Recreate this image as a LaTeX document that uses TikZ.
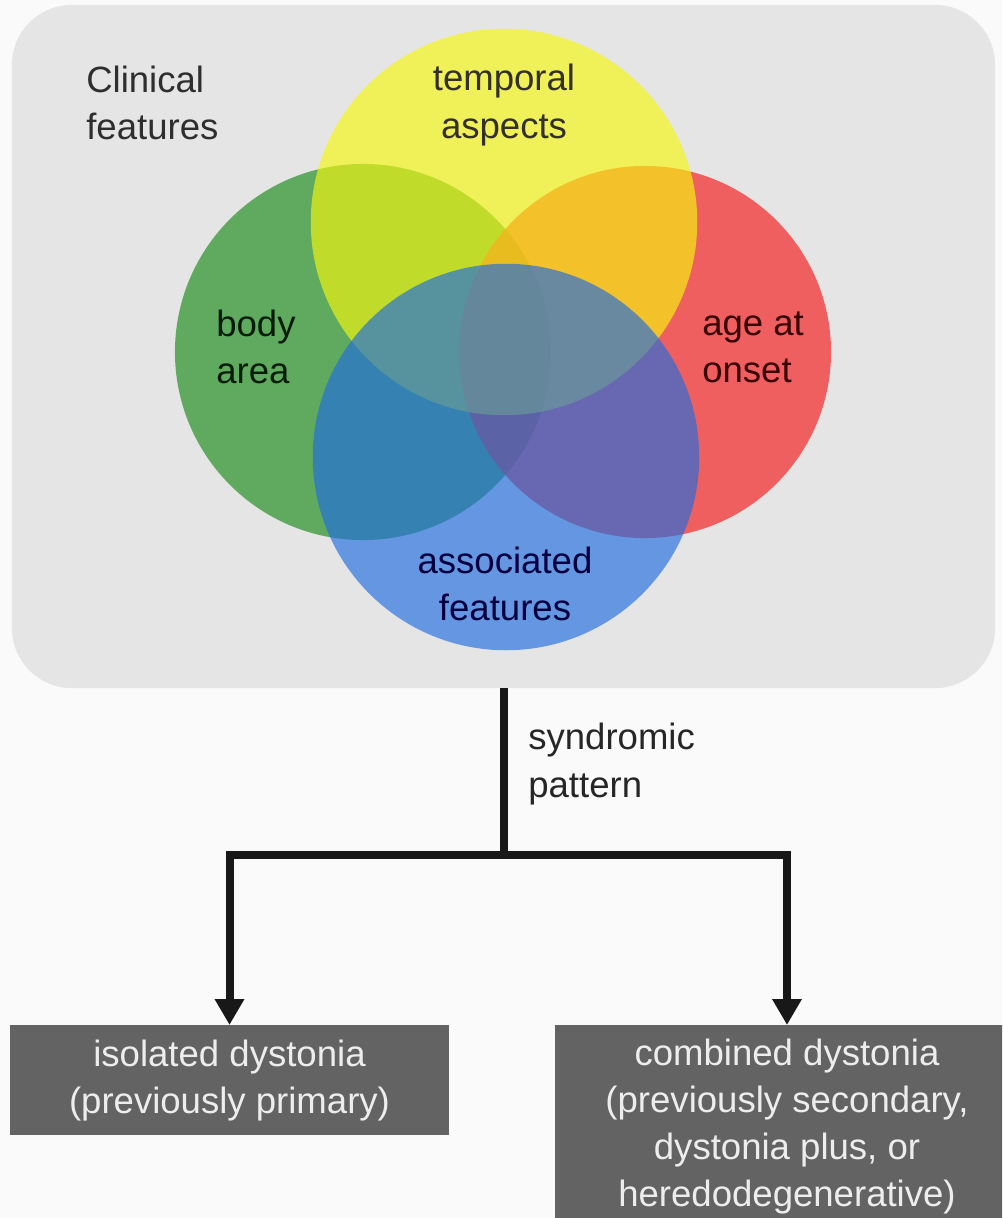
\documentclass[tikz,border=0pt]{standalone}
\usepackage{fontspec}
\setmainfont{Liberation Sans}
\usetikzlibrary{arrows.meta,positioning}
\definecolor{pagebg}{RGB}{250,250,250}
\definecolor{panelgray}{RGB}{229,229,229}
\definecolor{boxgray}{RGB}{99,99,99}
\definecolor{flowcol}{RGB}{24,24,24}
\definecolor{vgreen}{RGB}{51,151,51}
\definecolor{vred}{RGB}{244,51,51}
\definecolor{vyellow}{RGB}{246,246,15}
\definecolor{vblue}{RGB}{31,108,223}
\tikzset{
  panel/.style={fill=panelgray, rounded corners=1.5cm, inner sep=0pt,
    minimum width=24.575cm, minimum height=17.075cm},
  venn/.style={fill opacity=#1},
  venn/.default=0.75,
  lbl/.style={font=\fontsize{26}{33.5}\selectfont, inner sep=0pt},
  outbox/.style={lbl, fill=boxgray, text=white!93!black, align=center},
  flowln/.style={line width=0.2cm, draw=flowcol},
  arrowln/.style={flowln, -{Triangle[width=0.7cm,length=0.65cm]}},
}

\begin{document}
\begin{tikzpicture}[x=0.025cm, y=-0.025cm]
  \useasboundingbox (0,0) rectangle (1002,1218);
  \clip (0,0) rectangle (1002,1218);
  \fill[pagebg] (0,0) rectangle (1002,1218);
  % grey panel behind the circles
  \node[panel] (clinical) at (503.5,346.5) {};
  % four overlapping circles
  \fill[vgreen, venn] (363,352) circle (4.7cm);
  \fill[vred, venn] (645,352) circle (4.65cm);
  \fill[vyellow, venn=0.65] (504,222) circle (4.83cm);
  \fill[vblue, venn=0.65] (506,457) circle (4.83cm);
  % labels
  \node[lbl, anchor=west, align=left, text=black!82] (clinlbl) at (86,103)
    {Clinical\\features};
  \node[lbl, align=center, text=black!85!olive] (temporal) at (504,105)
    {temporal\\aspects};
  \node[lbl, anchor=west, align=left, text=black!82!vgreen] (body) at (216,347)
    {body\\area};
  \node[lbl, anchor=west, align=left, text=black!78!red] (age) at (702,347)
    {age at\\onset};
  \node[lbl, align=center, text=black!75!blue] (assoc) at (505,584)
    {associated\\features};
  \node[lbl, anchor=west, align=left, text=black!85] (synd) at (528,764)
    {syndromic\\pattern};
  % outcome boxes
  \node[outbox, anchor=north, minimum width=10.95cm, minimum height=2.75cm]
    (isolated) at (229.5,1025) {isolated dystonia\\(previously primary)};
  \node[outbox, anchor=north, minimum width=11.6cm, minimum height=5.05cm]
    (combined) at (787,1025)
    {combined dystonia\\(previously secondary,\\dystonia plus, or\\heredodegenerative)};
  % split
  \coordinate (split) at (503.5,855);
  \draw[flowln] (clinical.south) -- (split);
  \draw[arrowln] (split) -| (isolated.north);
  \draw[arrowln] (split) -| (combined.north);
\end{tikzpicture}
\end{document}
